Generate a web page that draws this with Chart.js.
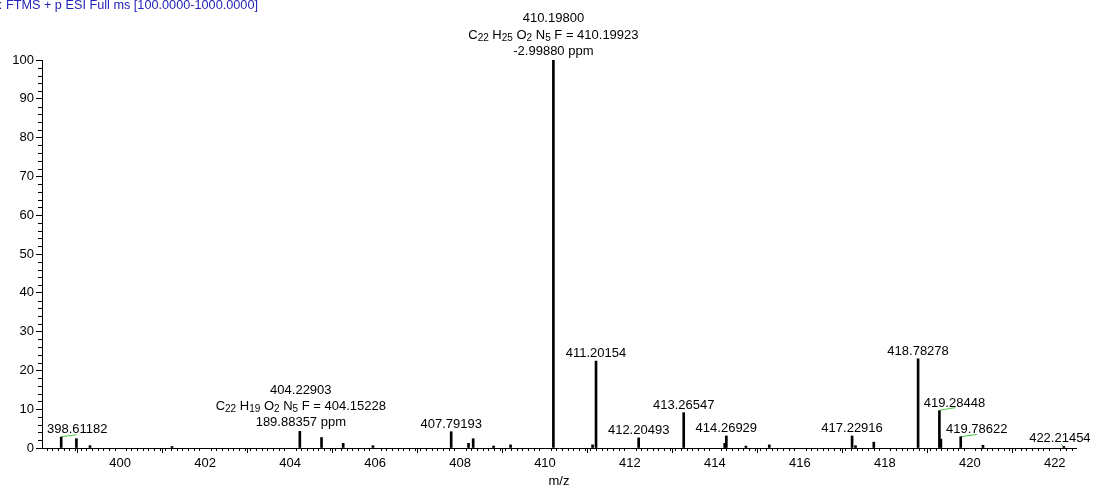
<!DOCTYPE html>
<html>
<head>
<meta charset="utf-8">
<script src="https://cdn.jsdelivr.net/npm/chart.js@4/dist/chart.umd.min.js"></script>
<style>
  html, body { margin: 0; padding: 0; background: #fff; }
  canvas { display: block; }
</style>
</head>
<body>
<canvas id="spectrum" width="1094" height="489"></canvas>
<script>
const peakMz = [398.61182, 398.97, 399.29, 401.22, 404.22903, 404.74, 405.25, 405.95,
  407.79193, 408.20, 408.31, 408.79, 409.19, 410.19800, 411.12, 411.20154, 412.20493,
  413.26547, 414.23, 414.26929, 414.73, 415.28, 417.22916, 417.31, 417.74, 418.78278,
  419.28448, 419.32, 419.78622, 420.31, 422.21454];
const peakIntensity = [2.8, 2.4, 0.6, 0.4, 4.3, 2.7, 1.2, 0.6,
  4.2, 1.2, 2.4, 0.5, 0.8, 100, 0.8, 22.4, 2.6,
  9.1, 1.2, 3.1, 0.5, 0.8, 3.1, 0.6, 1.5, 23.0,
  9.6, 2.3, 2.9, 0.7, 0.4];

// Étiquettes des pics
const labelMz = [398.61182, 404.22903, 407.79193, 410.19800, 411.20154, 412.20493,
  413.26547, 414.26929, 417.22916, 418.78278, 419.28448, 419.78622, 422.21454];
const labelLines = [
  ['398.61182'],
  ['404.22903', 'C_22 H_19 O_2 N_5 F = 404.15228', '189.88357 ppm'],
  ['407.79193'],
  ['410.19800', 'C_22 H_25 O_2 N_5 F = 410.19923', '-2.99880 ppm'],
  ['411.20154'],
  ['412.20493'],
  ['413.26547'],
  ['414.26929'],
  ['417.22916'],
  ['418.78278'],
  ['419.28448'],
  ['419.78622'],
  ['422.21454']
];
const labelShift = [16, 1, 0, 0, 0, 0, 0, 0, 0, 0, 15, 16, -4];

// Segments verts (profil isotopique)
const greenSegments = [
  [{ x: 398.61, y: 2.9 }, { x: 398.97, y: 3.4 }],
  [{ x: 419.27, y: 9.7 }, { x: 419.66, y: 10.4 }],
  [{ x: 419.78, y: 2.9 }, { x: 420.17, y: 3.5 }],
  [{ x: 422.15, y: 1.0 }, { x: 422.21, y: 0.3 }]
];

const xTicks = [400, 402, 404, 406, 408, 410, 412, 414, 416, 418, 420, 422];
const yTicks = [0, 10, 20, 30, 40, 50, 60, 70, 80, 90, 100];
const scanTitle = 'T: FTMS + p ESI Full ms [100.0000-1000.0000]';

const FONT = '"Liberation Sans", Arial, sans-serif';

// texte avec indices (C_22 -> C + 22 en indice)
function drawRich(ctx, text, cx, baseline) {
  const parts = text.split(/(_\d+)/).filter(s => s).map(s =>
    s[0] === '_' ? { t: s.slice(1), sub: true } : { t: s, sub: false });
  let total = 0;
  parts.forEach(p => {
    ctx.font = (p.sub ? '10px ' : '13px ') + FONT;
    p.w = ctx.measureText(p.t).width;
    total += p.w;
  });
  let x = cx - total / 2;
  ctx.textAlign = 'left';
  parts.forEach(p => {
    ctx.font = (p.sub ? '10px ' : '13px ') + FONT;
    ctx.fillText(p.t, x, baseline + (p.sub ? 2 : 0));
    x += p.w;
  });
}

const decoPlugin = {
  id: 'deco',
  afterDraw(chart) {
    const ctx = chart.ctx;
    const xs = chart.scales.x, ys = chart.scales.y;
    const area = chart.chartArea;
    ctx.save();
    ctx.strokeStyle = '#000';
    ctx.lineWidth = 1;
    // petites graduations
    ctx.beginPath();
    for (let v = 2; v < 100; v += 2) {
      if (v % 10 === 0) continue;
      const py = Math.round(ys.getPixelForValue(v)) + 0.5;
      ctx.moveTo(area.left - 4, py);
      ctx.lineTo(area.left, py);
    }
    const step = 2 / 15;
    for (let k = Math.ceil((xs.min - 398) / step); 398 + k * step <= xs.max; k++) {
      if (k % 15 === 0) continue;
      const px = Math.round(xs.getPixelForValue(398 + k * step)) + 0.5;
      ctx.moveTo(px, area.bottom);
      ctx.lineTo(px, area.bottom + 3);
    }
    ctx.stroke();

    // étiquettes
    ctx.fillStyle = '#000';
    ctx.textBaseline = 'alphabetic';
    labelMz.forEach((mz, i) => {
      const h = peakIntensity[peakMz.indexOf(mz)];
      const cx = xs.getPixelForValue(mz) + labelShift[i];
      const top = ys.getPixelForValue(h);
      const lines = labelLines[i];
      const last = top - (lines.length > 1 ? 5 : 4);
      lines.forEach((line, j) => {
        drawRich(ctx, line, cx, last - (lines.length - 1 - j) * 16.3);
      });
    });

    // titre du scan (coupé à gauche)
    ctx.font = '12.7px ' + FONT;
    ctx.fillStyle = '#2424b8';
    ctx.textAlign = 'right';
    ctx.fillText(scanTitle, 258, 8.5);
    ctx.restore();
  }
};

const axisFont = { family: FONT, size: 13 };

new Chart(document.getElementById('spectrum'), {
  type: 'bar',
  data: {
    datasets: [
      {
        label: 'Intensité',
        data: peakMz.map((mz, i) => ({ x: mz, y: peakIntensity[i] })),
        backgroundColor: '#000',
        borderWidth: 0,
        barThickness: 2
      },
      ...greenSegments.map(seg => ({
        type: 'line',
        data: seg,
        borderColor: '#44c844',
        borderWidth: 1,
        pointRadius: 0
      }))
    ]
  },
  options: {
    responsive: false,
    animation: false,
    layout: { padding: { top: 60, right: 18, left: 0, bottom: 0 } },
    plugins: {
      legend: { display: false },
      tooltip: { enabled: false }
    },
    scales: {
      x: {
        type: 'linear',
        min: 398.16,
        max: 422.5,
        offset: false,
        afterBuildTicks: s => { s.ticks = xTicks.map(v => ({ value: v })); },
        afterFit: s => { s.height = 41; },
        grid: { drawOnChartArea: false, drawTicks: true, tickLength: 5, color: '#000' },
        border: { display: true, color: '#000' },
        ticks: { color: '#000', font: axisFont, padding: 3, maxRotation: 0, autoSkip: false, callback: v => String(v) },
        title: { display: true, text: 'm/z', color: '#000', font: axisFont, padding: 0 }
      },
      y: {
        min: 0,
        max: 100,
        afterBuildTicks: s => { s.ticks = yTicks.map(v => ({ value: v })); },
        afterFit: s => { s.width = 42; },
        grid: { drawOnChartArea: false, drawTicks: true, tickLength: 6, color: '#000' },
        border: { display: true, color: '#000' },
        ticks: { color: '#000', font: axisFont, padding: 2, callback: v => String(v) }
      }
    }
  },
  plugins: [decoPlugin]
});
</script>
</body>
</html>
